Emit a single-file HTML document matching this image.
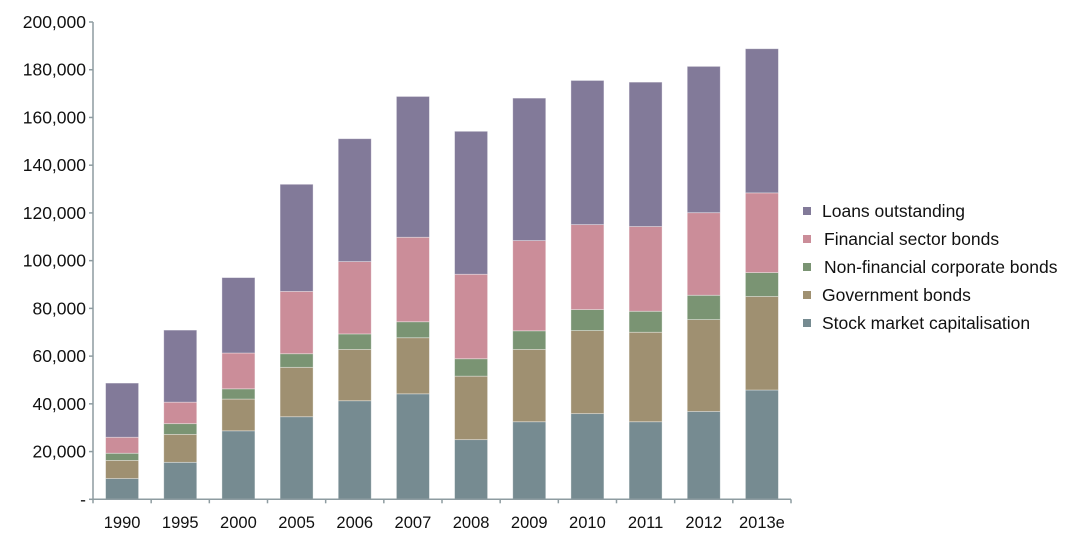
<!DOCTYPE html>
<html><head><meta charset="utf-8"><style>
html,body{margin:0;padding:0;background:#fff;}
svg{display:block;font-family:"Liberation Sans",Arial,sans-serif;}
</style></head><body>
<svg id="chart" width="1066" height="551" viewBox="0 0 1066 551">
<g id="grid"></g>
<g id="bars"></g>
<g id="xaxis"></g>
<g id="legend"></g>
</svg>
<script>
const categories=["1990","1995","2000","2005","2006","2007","2008","2009","2010","2011","2012","2013e"];
const stock=[8.7,15.5,28.7,34.6,41.3,44.2,25.0,32.5,35.9,32.5,36.8,45.8];
const gov=[7.6,11.7,13.3,20.7,21.5,23.5,26.6,30.3,34.8,37.5,38.5,39.2];
const nonfin=[3.0,4.5,4.3,5.7,6.5,6.7,7.3,7.8,8.8,8.8,10.2,10.0];
const fin=[6.7,9.0,15.0,26.1,30.3,35.4,35.4,37.8,35.6,35.5,34.6,33.4];
const loans=[22.7,30.2,31.6,44.9,51.5,59.0,59.9,59.7,60.4,60.5,61.3,60.4];
const yTicks=[0,20,40,60,80,100,120,140,160,180,200];
const yTickLabels=["-","20,000","40,000","60,000","80,000","100,000","120,000","140,000","160,000","180,000","200,000"];
const seriesNames=["Loans outstanding","Financial sector bonds","Non-financial corporate bonds","Government bonds","Stock market capitalisation"];
const NS="http://www.w3.org/2000/svg";
const x0=93,x1=791,y0=499.3,yTop=22;
const y=v=>y0-(v/200)*(y0-yTop);
const band=(x1-x0)/categories.length;
const xc=i=>x0+band*(i+0.5);
const bw=33;
const colors=["#827a99","#cb8d99","#7a9473","#9f9071","#768b91"];
function mk(t,a,p){const e=document.createElementNS(NS,t);for(const k in a)e.setAttribute(k,a[k]);p.appendChild(e);return e;}
const grid=document.getElementById('grid');
mk('line',{x1:x0,x2:x0,y1:yTop,y2:y0,stroke:'#8e9ca1','stroke-width':1.5},grid);
yTicks.forEach((v,i)=>{
  mk('line',{x1:x0-4,x2:x0,y1:y(v),y2:y(v),stroke:'#8e9ca1','stroke-width':1.5},grid);
  const t=mk('text',{x:86,y:y(v)+6,'text-anchor':'end','font-size':17.5,fill:'#111'},grid);
  
  
  t.textContent=yTickLabels[i];
});
const bars=document.getElementById('bars');
const stackOrder=[stock,gov,nonfin,fin,loans];
const colOrder=[colors[4],colors[3],colors[2],colors[1],colors[0]];
const segNames=['stock','gov','nonfin','fin','loans'];
categories.forEach((c,i)=>{
  let base=0;
  stackOrder.forEach((s,k)=>{
    const top=base+s[i];
    const r=mk('rect',{x:xc(i)-bw/2,y:y(top),width:bw,height:y(base)-y(top),fill:colOrder[k],stroke:'rgba(255,255,255,0.45)','stroke-width':0.8},bars);
    
    
    base=top;
  });
});
const xa=document.getElementById('xaxis');
mk('line',{x1:x0,x2:x1,y1:y0,y2:y0,stroke:'#8e9ca1','stroke-width':1.5},xa);
for(let i=0;i<=categories.length;i++){mk('line',{x1:x0+band*i,x2:x0+band*i,y1:y0,y2:y0+4,stroke:'#8e9ca1','stroke-width':1.5},xa);}
categories.forEach((c,i)=>{
  const t=mk('text',{x:xc(i),y:528,'text-anchor':'middle','font-size':16.5,fill:'#111'},xa);
  
  
  t.textContent=c;
});
const lg=document.getElementById('legend');
const ly=[211,239,267,295,323];
const lx=[822,824,824,822,822];
seriesNames.forEach((n,i)=>{
  const g=mk('g',{},lg);
  
  
  mk('rect',{x:803,y:ly[i]-4,width:8,height:8,fill:colors[i]},g);
  const t=mk('text',{x:lx[i],y:ly[i]+6,'font-size':17.5,fill:'#111'},g);
  t.textContent=n;
});
</script>
</body></html>
